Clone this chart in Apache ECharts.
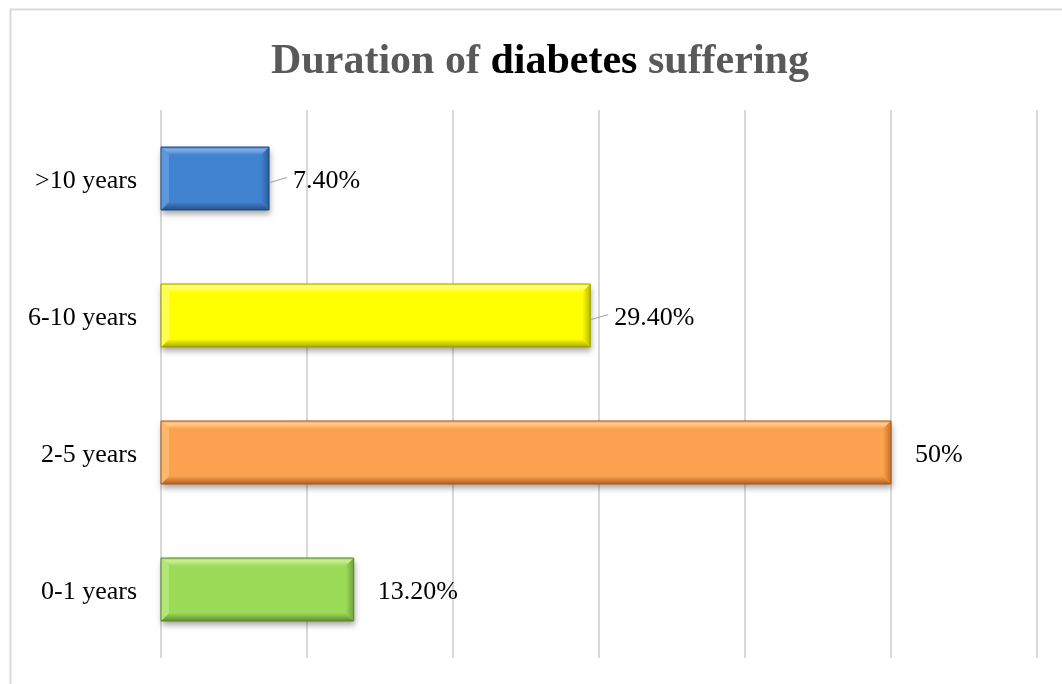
<!DOCTYPE html>
<html>
<head>
<meta charset="utf-8">
<script src="https://cdn.jsdelivr.net/npm/echarts@6/dist/echarts.min.js"></script>
<style>
  html, body { margin: 0; padding: 0; background: #fff; }
  #chart { width: 1062px; height: 684px; }
</style>
</head>
<body>
<div id="chart"></div>
<script>
// Duration groups, listed bottom to top
const categories = ['0-1 years', '2-5 years', '6-10 years', '>10 years'];
// Share of respondents (%)
const shares = [13.2, 50, 29.4, 7.4];
// Value axis ticks (%)
const axisMin = 0;
const axisMax = 60;
const axisStep = 10;

// Bevel palette per group: face, top edge, bottom edge, left edge, right edge
const palettes = [
  { face: '#9bdb58', top: '#c8f09a', bottom: '#5f8f2e', left: '#b2e676', right: '#6fa23a', line: '#5a842c' },
  { face: '#fba14f', top: '#ffcf94', bottom: '#b4621f', left: '#fdb86e', right: '#c8722a', line: '#a8591b' },
  { face: '#ffff00', top: '#ffff90', bottom: '#a8a800', left: '#ffff50', right: '#bcbc00', line: '#9c9c00' },
  { face: '#4283cf', top: '#82b0e8', bottom: '#25508a', left: '#5e98dc', right: '#2b5c9a', line: '#1f4a80' }
];
// Groups whose value label is joined to the bar by a short leader line
const leaderGroups = ['6-10 years', '>10 years'];

function fmt(v) {
  return Number.isInteger(v) ? v + '%' : v.toFixed(2) + '%';
}

const chart = echarts.init(document.getElementById('chart'), null, { renderer: 'canvas' });
const serif = '"Liberation Serif", "Times New Roman", serif';

function renderBar(params, api) {
  const idx = params.dataIndex;
  const v = api.value(0);
  const cat = api.value(1);
  const p0 = api.coord([0, cat]);
  const p1 = api.coord([v, cat]);
  const band = api.size([0, 1])[1];
  const h = band * 0.46;
  const x0 = p0[0], x1 = p1[0];
  const y0 = p0[1] - h / 2, y1 = p0[1] + h / 2;
  const b = 8;
  const pal = palettes[idx];
  const children = [
    { type: 'rect', shape: { x: x0, y: y0, width: x1 - x0, height: h },
      style: { fill: pal.face, shadowBlur: 6, shadowOffsetX: 1, shadowOffsetY: 4, shadowColor: 'rgba(0,0,0,0.35)' } },
    { type: 'polygon', shape: { points: [[x0, y0], [x1, y0], [x1 - b, y0 + b], [x0 + b, y0 + b]] },
      style: { fill: { type: 'linear', x: 0, y: 0, x2: 0, y2: 1, colorStops: [{ offset: 0, color: pal.face }, { offset: 0.35, color: pal.top }, { offset: 1, color: pal.face }] } } },
    { type: 'polygon', shape: { points: [[x0, y1], [x1, y1], [x1 - b, y1 - b], [x0 + b, y1 - b]] },
      style: { fill: { type: 'linear', x: 0, y: 0, x2: 0, y2: 1, colorStops: [{ offset: 0, color: pal.face }, { offset: 1, color: pal.bottom }] } } },
    { type: 'polygon', shape: { points: [[x0, y0], [x0 + b, y0 + b], [x0 + b, y1 - b], [x0, y1]] },
      style: { fill: pal.left } },
    { type: 'polygon', shape: { points: [[x1, y0], [x1 - b, y0 + b], [x1 - b, y1 - b], [x1, y1]] },
      style: { fill: { type: 'linear', x: 0, y: 0, x2: 1, y2: 0, colorStops: [{ offset: 0, color: pal.face }, { offset: 1, color: pal.right }] } } },
    { type: 'rect', shape: { x: x0, y: y0, width: x1 - x0, height: h },
      style: { fill: 'none', stroke: pal.line, lineWidth: 1 } },
    { type: 'text', x: x1 + 24, y: p0[1] + 3,
      style: { text: fmt(v), font: '26px ' + serif, fill: '#000', verticalAlign: 'middle', align: 'left' } }
  ];
  if (leaderGroups.indexOf(categories[idx]) >= 0) {
    children.push({ type: 'line', shape: { x1: x1 + 1, y1: p0[1] + 4, x2: x1 + 18, y2: p0[1] - 1 },
      style: { stroke: '#a6a6a6', lineWidth: 1.3 } });
  }
  return { type: 'group', children: children };
}

chart.setOption({
  animation: false,
  backgroundColor: '#ffffff',
  title: {
    text: '{g|Duration of }{b|diabetes}{g| suffering}',
    left: 535, top: 36, textAlign: 'center',
    textStyle: {
      rich: {
        g: { fontFamily: serif, fontSize: 42, fontWeight: 'bold', color: '#595959' },
        b: { fontFamily: serif, fontSize: 42, fontWeight: 'bold', color: '#000000' }
      }
    }
  },
  graphic: [{
    type: 'rect', left: 8, top: 7, silent: true,
    shape: { x: 0, y: 0, width: 1100, height: 720 },
    style: { fill: 'none', stroke: '#d9d9d9', lineWidth: 2 }
  }],
  grid: { left: 161, right: 25, top: 110, bottom: 26, containLabel: false },
  xAxis: {
    type: 'value', min: axisMin, max: axisMax, interval: axisStep,
    axisLabel: { show: false }, axisTick: { show: false }, axisLine: { show: false },
    splitLine: { show: true, lineStyle: { color: '#d9d9d9', width: 2 } }
  },
  yAxis: {
    type: 'category', data: categories,
    axisTick: { show: false }, axisLine: { show: false },
    axisLabel: {
      margin: 24,
      formatter: (v) => '{c|' + v + '}',
      rich: { c: { fontFamily: serif, fontSize: 26, color: '#000', padding: [6, 0, 0, 0] } }
    }
  },
  series: [{
    type: 'custom',
    renderItem: renderBar,
    encode: { x: 0, y: 1 },
    data: shares.map((v, i) => [v, i]),
    clip: false
  }]
});
</script>
</body>
</html>
